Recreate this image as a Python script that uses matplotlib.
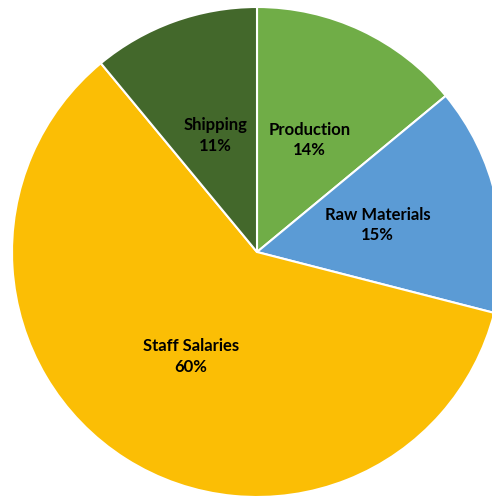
import matplotlib
matplotlib.use("Agg")
import matplotlib.pyplot as plt
import numpy as np

categories = ["Production", "Raw Materials", "Staff Salaries", "Shipping"]
values = [14, 15, 60, 11]
colors = ["#70AD47", "#5B9BD5", "#FBBE05", "#43682B"]

fig = plt.figure(figsize=(4.92, 4.98), dpi=100)
ax = fig.add_axes([0, 0, 1, 1])
wedges, _ = ax.pie(values, colors=colors, startangle=90, counterclock=False,
                   radius=1.0, center=(0, 0),
                   wedgeprops=dict(edgecolor="white", linewidth=1.5))
total = sum(values)
for w, cat, v in zip(wedges, categories, values):
    mid = np.deg2rad((w.theta1 + w.theta2) / 2)
    r = 0.505
    ax.text(r * np.cos(mid), r * np.sin(mid), f"{cat}\n{v / total * 100:.0f}%",
            ha="center", va="center", fontsize=12, fontweight="bold",
            family=["Lato", "DejaVu Sans"], color="black", linespacing=1.35)
ax.set_aspect("auto")
ax.set_xlim(-257 / 245, (492 - 257) / 245)
ax.set_ylim(-(498 - 252) / 245, 252 / 245)
ax.axis("off")
fig.savefig("out.png", dpi=100)
